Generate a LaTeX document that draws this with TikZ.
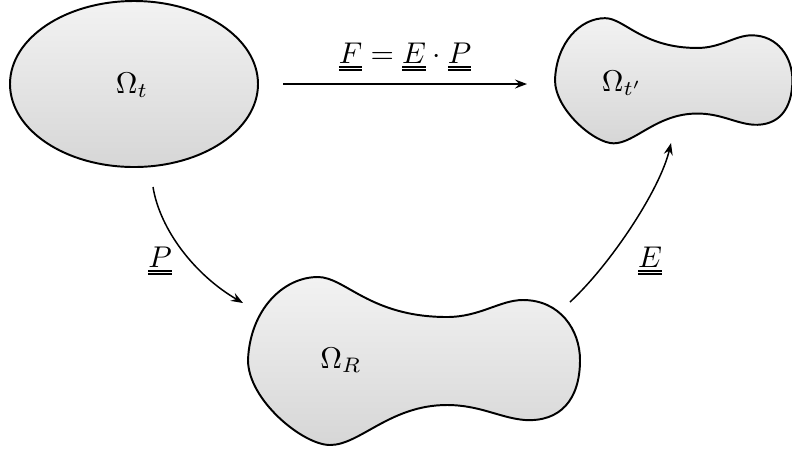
\documentclass[tikz,border=0pt]{standalone}
\usetikzlibrary{arrows.meta}
\newcommand\dul[1]{\vtop{\hbox{$#1$}\kern0.9pt\hrule height0.6pt\kern0.5pt\hrule height0.6pt}}
\tikzset{
  region/.style={draw=black, line width=0.65pt, top color=white!95!black, bottom color=white!84!black},
  conn/.style={draw=black, line width=0.5pt, -{Stealth[length=4pt,width=3pt,inset=1.4pt]}},
  lbl/.style={inner sep=0pt, anchor=base},
  blob/.pic={
    \path[region] (0,0)
      .. controls (2,-50) and (35,-83) .. (70,-83)
      .. controls (97,-83) and (122,-43) .. (199,-43)
      .. controls (232,-43) and (252,-60) .. (275,-60)
      .. controls (312,-60) and (332,-30) .. (332,0)
      .. controls (332,40) and (312,62) .. (277,60)
      .. controls (252,58) and (232,45) .. (199,45)
      .. controls (142,45) and (112,85) .. (82,85)
      .. controls (55,85) and (0,40) .. (0,0) -- cycle;
  }
}
\begin{document}
\begin{tikzpicture}[x=0.33333pt,y=-0.33333pt]
\useasboundingbox (0,0) rectangle (792,450);
% regions
\path[region] (134,84) ellipse [x radius=124, y radius=83];
\pic at (248,360) {blob};
\pic[xscale=0.715,yscale=0.745] at (555,80) {blob};
% region labels
\node[lbl] (Ot) at (132,93) {$\Omega_t$};
\node[lbl] (Otp) at (622,91) {$\Omega_{t'}$};
\node[lbl] (OR) at (341,368) {$\Omega_R$};
% connector ends
\coordinate (a1) at (283,84);
\coordinate (a2) at (527,84);
\coordinate (p1) at (153,187);
\coordinate (p2) at (243,303);
\coordinate (e1) at (570,302);
\coordinate (e2) at (671,143);
% connectors
\draw[conn] (a1) -- (a2);
\draw[conn] (p1) .. controls (160,230) and (195,275) .. (p2);
\draw[conn] (e1) .. controls (610,265) and (660,190) .. (e2);
% connector labels
\node[lbl] (Fl) at (405,63) {$\dul{F} = \dul{E}\cdot\dul{P}$};
\node[lbl] (Pl) at (160,267) {$\dul{P}$};
\node[lbl] (El) at (650,267) {$\dul{E}$};
\end{tikzpicture}
\end{document}
